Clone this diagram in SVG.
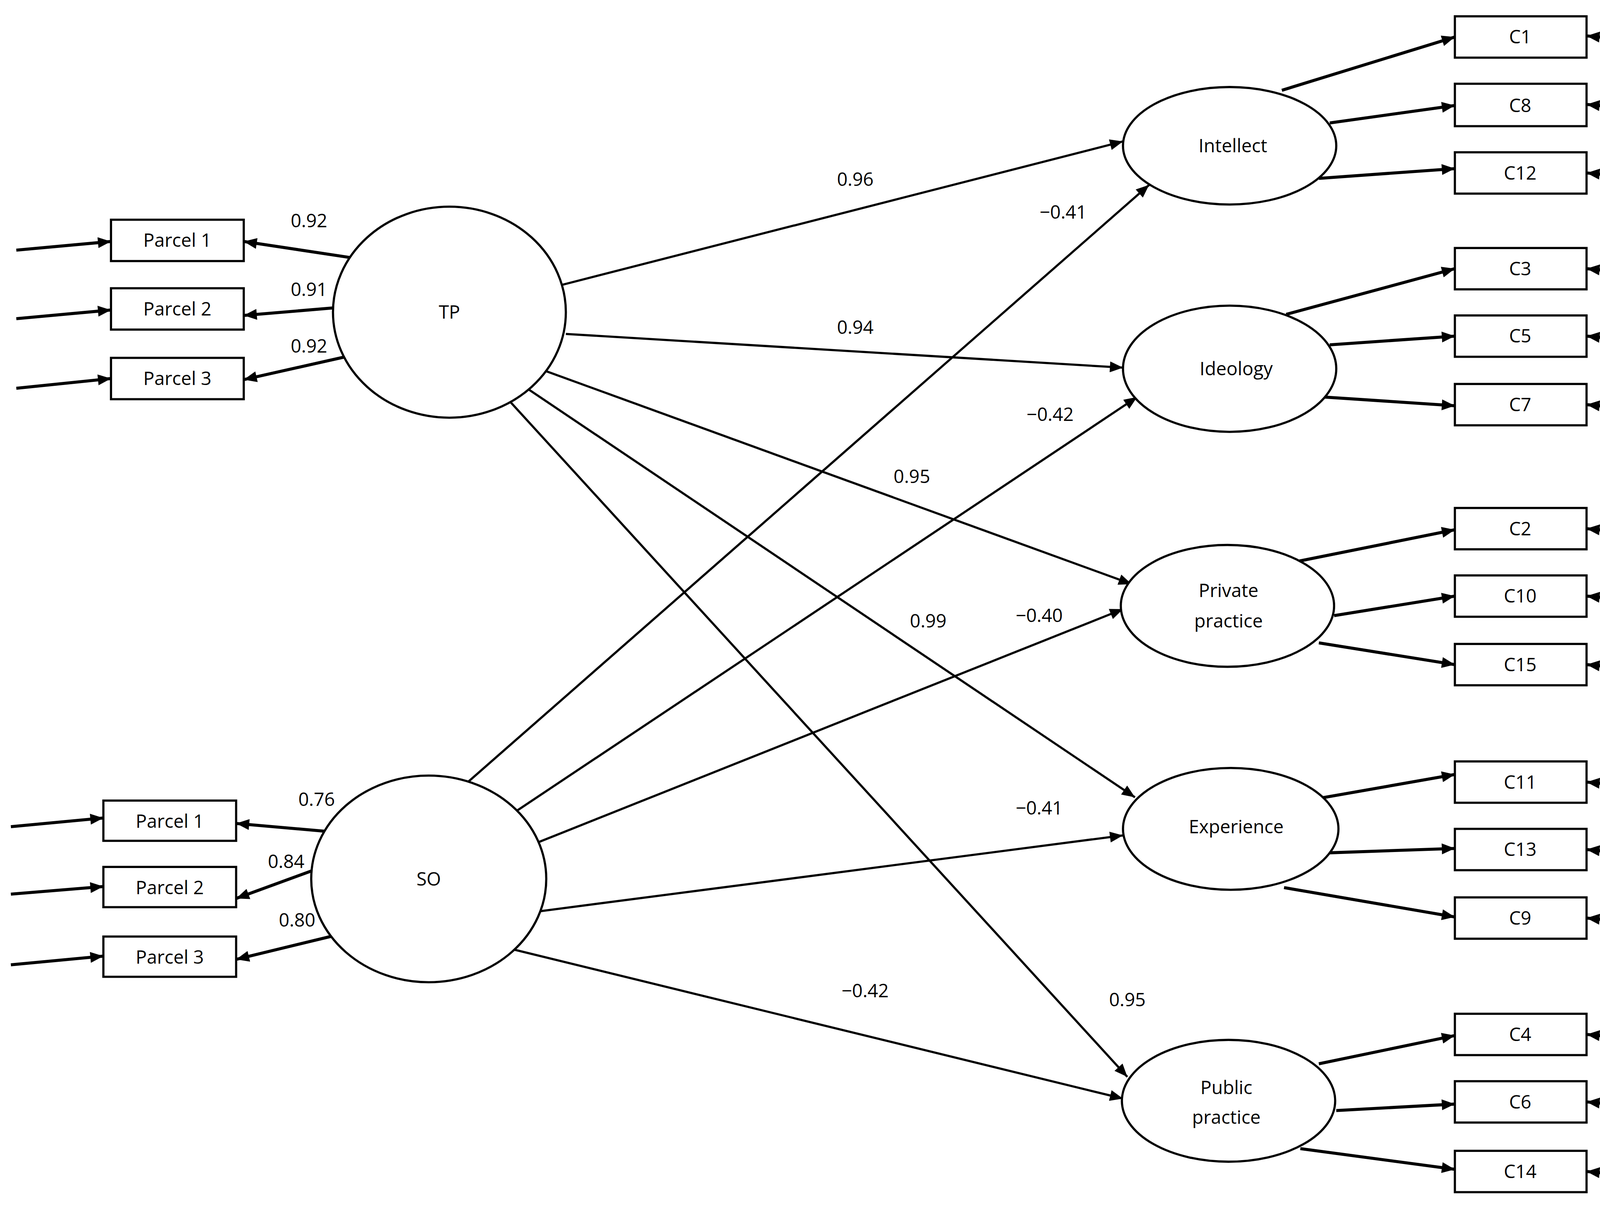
<svg xmlns="http://www.w3.org/2000/svg" width="4368" height="3086" viewBox="0 0 4368 3086">
<defs>
<marker id="a" viewBox="0 0 12 10" refX="12" refY="5" markerWidth="13" markerHeight="10" markerUnits="userSpaceOnUse" orient="auto"><path d="M0,0 L12,5 L0,10 z" fill="#000"/></marker>
<style>
.l{stroke:#000;stroke-width:2;fill:none;marker-end:url(#a)}
.t{stroke-width:2.8}
.b{fill:#fff;stroke:#000;stroke-width:2}
text{font-family:"Open Sans","Liberation Sans",sans-serif;font-size:17px;fill:#000;text-anchor:middle}
</style>
</defs>
<rect width="4368" height="3086" fill="#fff"/>
<g transform="scale(2.7857)">
<g id="connectors">
<path class="l t" d="M15,230 L102,222"/><path class="l t" d="M15,293 L102,285"/><path class="l t" d="M15,357 L102,348"/>
<path class="l t" d="M330,238 L224,222"/><path class="l t" d="M307,283 L224,290"/><path class="l t" d="M322,327 L224,349"/>
<path class="l t" d="M10,760 L95,752"/><path class="l t" d="M10,822 L95,815"/><path class="l t" d="M10,887 L95,879"/>
<path class="l t" d="M308,765 L217,757"/><path class="l t" d="M288,800 L217,826"/><path class="l t" d="M316,858 L217,882"/>
<path class="l" d="M516,262 L1032,130"/><path class="l" d="M520,307 L1032,338"/><path class="l" d="M493,338 L1040,537"/><path class="l" d="M462,342 L1043,733"/><path class="l" d="M453,352 L1036,990"/>
<path class="l" d="M414,733 L1056,170"/><path class="l" d="M465,752 L1045,365"/><path class="l" d="M493,775 L1032,560"/><path class="l" d="M494,838 L1032,768"/><path class="l" d="M460,870 L1032,1010"/>
<path class="l t" d="M1178,83 L1337,34"/><path class="l t" d="M1222,113 L1337,97"/><path class="l t" d="M1212,164 L1337,155"/>
<path class="l t" d="M1182,289 L1337,247"/><path class="l t" d="M1222,317 L1337,309"/><path class="l t" d="M1217,365 L1337,373"/>
<path class="l t" d="M1193,516 L1337,487"/><path class="l t" d="M1226,566 L1337,548"/><path class="l t" d="M1212,591 L1337,611"/>
<path class="l t" d="M1212,734 L1337,712"/><path class="l t" d="M1222,784 L1337,780"/><path class="l t" d="M1180,816 L1337,843"/>
<path class="l t" d="M1212,978 L1337,952"/><path class="l t" d="M1228,1021 L1337,1015"/><path class="l t" d="M1195,1056 L1337,1075"/>
<path class="l t" d="M1547,41 L1458,33"/><path class="l t" d="M1547,104 L1458,96"/><path class="l t" d="M1547,167 L1458,159"/>
<path class="l t" d="M1547,255 L1458,247"/><path class="l t" d="M1547,317 L1458,309"/><path class="l t" d="M1547,380 L1458,372"/>
<path class="l t" d="M1547,494 L1458,486"/><path class="l t" d="M1547,556 L1458,548"/><path class="l t" d="M1547,619 L1458,611"/>
<path class="l t" d="M1547,727 L1458,719"/><path class="l t" d="M1547,789 L1458,781"/><path class="l t" d="M1547,852 L1458,844"/>
<path class="l t" d="M1547,959 L1458,951"/><path class="l t" d="M1547,1021 L1458,1013"/><path class="l t" d="M1547,1085 L1458,1077"/>
</g>
<g id="labels">
<text x="284" y="209">0.92</text><text x="284" y="272">0.91</text><text x="284" y="324">0.92</text>
<text x="291" y="741">0.76</text><text x="263" y="798">0.84</text><text x="273" y="852">0.80</text>
<text x="786" y="171">0.96</text><text x="786" y="307">0.94</text><text x="838" y="444">0.95</text><text x="853" y="577">0.99</text><text x="1036" y="925">0.95</text>
<text x="977" y="201">−0.41</text><text x="965" y="387">−0.42</text><text x="955" y="572">−0.40</text><text x="955" y="749">−0.41</text><text x="795" y="917">−0.42</text>
<text x="1522" y="25">0.86</text><text x="1522" y="88">0.83</text><text x="1522" y="146">0.72</text>
<text x="1522" y="235">0.90</text><text x="1522" y="297">0.88</text><text x="1522" y="361">0.92</text>
<text x="1522" y="475">0.94</text><text x="1522" y="542">0.91</text><text x="1524" y="605">0.89</text>
<text x="1524" y="718">0.87</text><text x="1524" y="773">0.91</text><text x="1524" y="843">0.90</text>
<text x="1524" y="934">0.96</text><text x="1524" y="1002">0.90</text><text x="1530" y="1068">0.80</text>
</g>
<g id="TP"><ellipse class="b" cx="413" cy="287" rx="107" ry="97"/><text x="413" y="293">TP</text></g>
<g id="SO"><ellipse class="b" cx="394" cy="808" rx="108" ry="95"/><text x="394" y="814">SO</text></g>
<g id="TP_Parcel1"><rect class="b" x="102" y="202" width="122" height="38"/><text x="163" y="227">Parcel 1</text></g>
<g id="TP_Parcel2"><rect class="b" x="102" y="265" width="122" height="38"/><text x="163" y="290">Parcel 2</text></g>
<g id="TP_Parcel3"><rect class="b" x="102" y="329" width="122" height="38"/><text x="163" y="354">Parcel 3</text></g>
<g id="SO_Parcel1"><rect class="b" x="95" y="736" width="122" height="37"/><text x="156" y="761">Parcel 1</text></g>
<g id="SO_Parcel2"><rect class="b" x="95" y="797" width="122" height="37"/><text x="156" y="822">Parcel 2</text></g>
<g id="SO_Parcel3"><rect class="b" x="95" y="861" width="122" height="37"/><text x="156" y="886">Parcel 3</text></g>
<g id="Intellect"><ellipse class="b" cx="1130" cy="134" rx="98" ry="54"/><text x="1133" y="140">Intellect</text></g>
<g id="Ideology"><ellipse class="b" cx="1130" cy="339" rx="98" ry="58"/><text x="1136" y="345">Ideology</text></g>
<g id="Private"><ellipse class="b" cx="1128" cy="557" rx="98" ry="56"/><text x="1129" y="549">Private</text><text x="1129" y="577">practice</text></g>
<g id="Experience"><ellipse class="b" cx="1131" cy="762" rx="99" ry="56"/><text x="1136" y="766">Experience</text></g>
<g id="Public"><ellipse class="b" cx="1129" cy="1012" rx="98" ry="56"/><text x="1127" y="1006">Public</text><text x="1127" y="1033">practice</text></g>
<g id="C1"><rect class="b" x="1337" y="15" width="121" height="38"/><text x="1397" y="40">C1</text></g>
<g id="C8"><rect class="b" x="1337" y="77" width="121" height="39"/><text x="1397" y="103">C8</text></g>
<g id="C12"><rect class="b" x="1337" y="140" width="121" height="38"/><text x="1397" y="165">C12</text></g>
<g id="C3"><rect class="b" x="1337" y="228" width="121" height="38"/><text x="1397" y="253">C3</text></g>
<g id="C5"><rect class="b" x="1337" y="290" width="121" height="38"/><text x="1397" y="315">C5</text></g>
<g id="C7"><rect class="b" x="1337" y="353" width="121" height="38"/><text x="1397" y="378">C7</text></g>
<g id="C2"><rect class="b" x="1337" y="467" width="121" height="38"/><text x="1397" y="492">C2</text></g>
<g id="C10"><rect class="b" x="1337" y="529" width="121" height="38"/><text x="1397" y="554">C10</text></g>
<g id="C15"><rect class="b" x="1337" y="592" width="121" height="38"/><text x="1397" y="617">C15</text></g>
<g id="C11"><rect class="b" x="1337" y="700" width="121" height="38"/><text x="1397" y="725">C11</text></g>
<g id="C13"><rect class="b" x="1337" y="762" width="121" height="38"/><text x="1397" y="787">C13</text></g>
<g id="C9"><rect class="b" x="1337" y="825" width="121" height="38"/><text x="1397" y="850">C9</text></g>
<g id="C4"><rect class="b" x="1337" y="932" width="121" height="38"/><text x="1397" y="957">C4</text></g>
<g id="C6"><rect class="b" x="1337" y="994" width="121" height="38"/><text x="1397" y="1019">C6</text></g>
<g id="C14"><rect class="b" x="1337" y="1058" width="121" height="38"/><text x="1397" y="1083">C14</text></g>
</g>
</svg>
